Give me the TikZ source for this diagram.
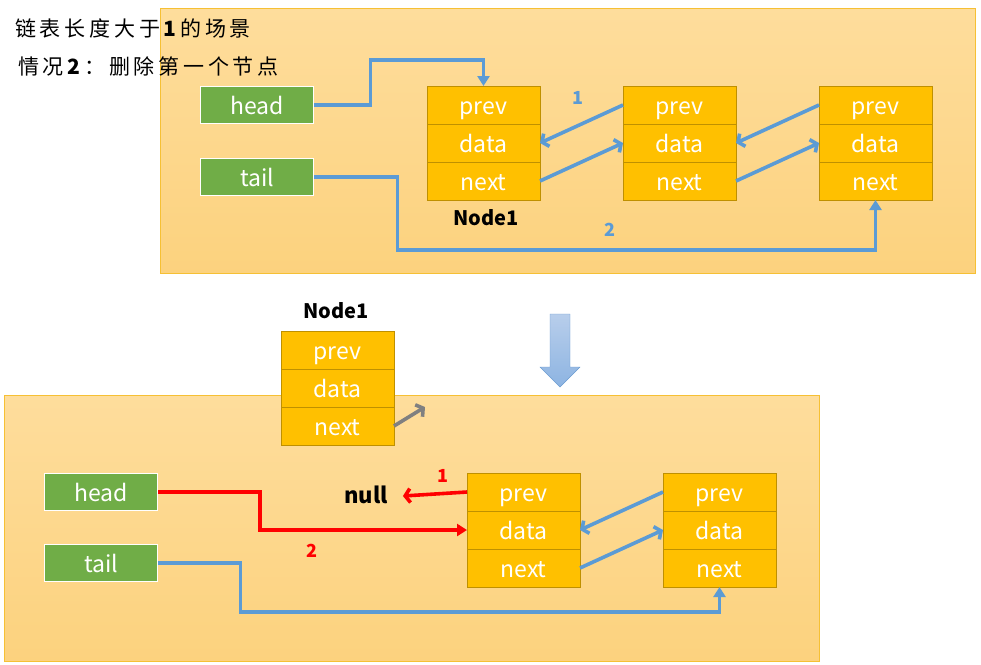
\documentclass[tikz,border=0pt]{standalone}
\usepackage{fontspec}
\setmainfont{Noto Sans CJK SC}
\newfontfamily\cjk[LetterSpace=18]{Noto Sans CJK SC}
\usetikzlibrary{positioning,arrows.meta}
\definecolor{cellfill}{RGB}{255,192,0}
\definecolor{celledge}{RGB}{191,144,0}
\definecolor{ptrgreen}{RGB}{112,173,71}
\definecolor{linkblue}{RGB}{91,155,213}
\definecolor{panelline}{RGB}{246,192,52}
\definecolor{paneltop}{RGB}{254,221,156}
\definecolor{panelbot}{RGB}{252,210,126}
\definecolor{droptop}{RGB}{184,206,235}
\definecolor{dropbot}{RGB}{141,180,226}
\definecolor{dropline}{RGB}{106,155,209}

\begin{document}
\begin{tikzpicture}[
			x = 1pt, y = -1pt,
			cell/.style = {draw=celledge, fill=cellfill, text=white, line width=0.8pt,
				minimum width=113pt, minimum height=38pt, inner sep=0pt, outer sep=0pt,
				text height=23pt, text depth=4pt, font=\fontsize{23}{23}\selectfont},
			ptr/.style = {draw=white, fill=ptrgreen, text=white, line width=1.6pt,
				minimum width=113pt, minimum height=37pt, inner sep=0pt,
				text height=23pt, text depth=4pt, font=\fontsize{23}{23}\selectfont},
			panel/.style = {draw=panelline, line width=0.8pt, top color=paneltop, bottom color=panelbot},
			link/.style = {line width=3.6pt, -{Straight Barb[length=5pt,width=14pt]}},
			feed/.style = {line width=3.6pt, -{Triangle[length=10pt,width=12pt]}},
			tag/.style = {font=\bfseries\fontsize{18}{18}\selectfont},
			title/.style = {font=\bfseries\fontsize{20}{20}\selectfont, inner sep=0pt}]

			\useasboundingbox (0,0) rectangle (981,664);

			% panels
			\draw[panel] (160,8) rectangle (975,273);
			\draw[panel] (4,395) rectangle (819,661);

			% headings
			\node[anchor=west, inner sep=0pt] (heading) at (15,28) {\cjk\fontsize{21}{21}\selectfont 链表长度大于\textbf{1}的场景};
			\node[anchor=west, inner sep=0pt] (case) at (18,66) {\cjk\fontsize{21}{21}\selectfont 情况\textbf{2}：删除第一个节点};

			% list nodes
			\foreach \nm/\px/\py in {a/427/86, b/623/86, c/819/86, d/281/331, e/467/473, f/663/473} {
				\node[cell, anchor=north west] (\nm prev) at (\px,\py) {prev};
				\node[cell, below=0pt of \nm prev] (\nm data) {data};
				\node[cell, below=0pt of \nm data] (\nm next) {next};
			}

			\node[title] (topname) at (486,218) {Node1};
			\node[title] (botname) at (336,311) {Node1};

			% head and tail
			\node[ptr] (tophead) at (257,105) {head};
			\node[ptr] (toptail) at (257,177) {tail};
			\node[ptr] (bothead) at (101,492) {head};
			\node[ptr] (bottail) at (101,563) {tail};

			% before
			\draw[feed,linkblue] (tophead.east) -| ([xshift=-113pt,yshift=26pt]aprev.north) -| (aprev.north);
			\draw[feed,linkblue] (toptail.east) -| ([xshift=-478pt,yshift=-50pt]cnext.south) -| (cnext.south);
			\draw[link,linkblue] (bprev.west) -- (adata.east);
			\draw[link,linkblue] (anext.east) -- (bdata.west);
			\draw[link,linkblue] (cprev.west) -- (bdata.east);
			\draw[link,linkblue] (bnext.east) -- (cdata.west);
			\node[tag,text=linkblue] (topone) at (578,98) {1};
			\node[tag,text=linkblue] (toptwo) at (610,230) {2};

			% step arrow
			\draw[dropline, top color=droptop, bottom color=dropbot]
				(550,314) -- (570,314) -- (570,367) -- (580,367) -- (560,387) -- (540,367) -- (550,367) -- cycle;

			% after
			\coordinate (loose) at (425,407);
			\draw[link,gray] (dnext.east) -- (loose);

			\node[title, font=\bfseries\fontsize{22}{22}\selectfont] (null) at (366,495) {null};
			\draw[link,red] (eprev.west) -- ([xshift=15pt,yshift=-1pt]null.east);
			\draw[feed,red] (bothead.east) -| ([xshift=-207pt]edata.west) -- (edata.west);
			\node[tag,text=red] (botone) at (443,476) {1};
			\node[tag,text=red] (bottwo) at (312,551) {2};

			\draw[feed,linkblue] (bottail.east) -| ([xshift=-479pt,yshift=-25pt]fnext.south) -| (fnext.south);
			\draw[link,linkblue] (fprev.west) -- (edata.east);
			\draw[link,linkblue] (enext.east) -- (fdata.west);

		\end{tikzpicture}
\end{document}
